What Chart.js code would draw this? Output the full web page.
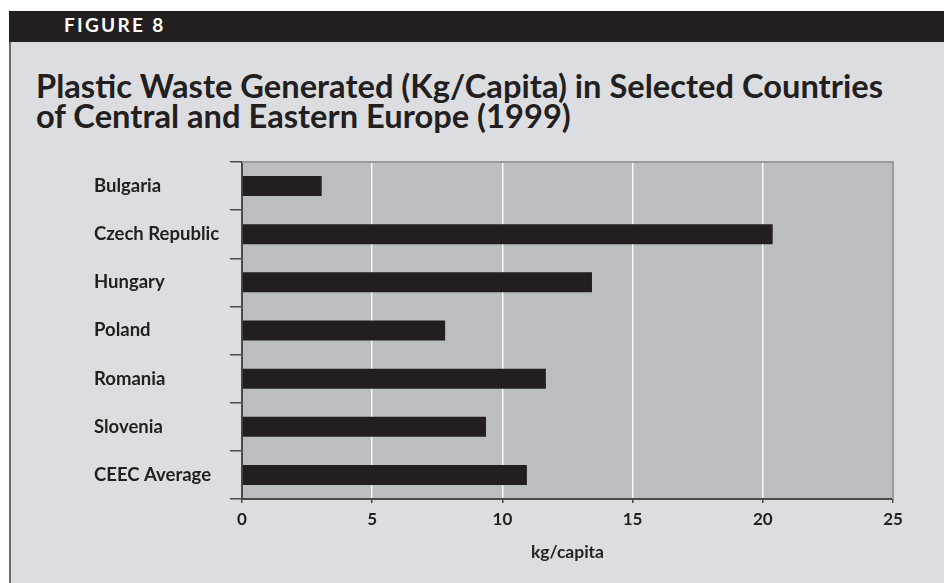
<!DOCTYPE html>
<html>
<head>
<meta charset="utf-8">
<script src="https://cdn.jsdelivr.net/npm/chart.js@4/dist/chart.umd.min.js"></script>
<style>
  html, body { margin: 0; padding: 0; background: #fff; }
  #page { position: relative; width: 944px; height: 583px; overflow: hidden; }
  #panel { position: absolute; left: 9px; top: 11px; right: 0; bottom: 0; background: #dcdde0; border-left: 2px solid #6b6b6b; }
  #header { position: absolute; left: 9px; top: 11px; right: 0; height: 31px; background: #231f20; }
  #header span { position: absolute; left: 55px; top: 2px; line-height: 31px; font: bold 19px Lato, sans-serif; letter-spacing: 2.3px; color: #fff; }
  #title { position: absolute; left: 36px; top: 70px; font: bold 33px Lato, sans-serif; line-height: 30px; color: #231f20; transform-origin: 0 0; white-space: nowrap; }
  canvas { position: absolute; left: 0; top: 0; }
</style>
</head>
<body>
<div id="page">
  <div id="panel"></div>
  <div id="header"><span>FIGURE 8</span></div>
  <div id="title"><div id="t1">Plastic Waste Generated (Kg/Capita) in Selected Countries</div><div>of Central and Eastern Europe (1999)</div></div>
  <canvas id="chart" width="944" height="583"></canvas>
</div>
<script>
const countries = ['Bulgaria', 'Czech Republic', 'Hungary', 'Poland', 'Romania', 'Slovenia', 'CEEC Average'];
const plasticWaste = [3.06, 20.38, 13.44, 7.8, 11.67, 9.37, 10.94];
const xMin = 0, xMax = 25, xStep = 5;

// squeeze the title to the width of the condensed face in the original
const t1 = document.getElementById('t1');
const titleEl = document.getElementById('title');
const sx = 847 / t1.getBoundingClientRect().width;
titleEl.style.transform = 'scaleX(' + sx + ')';

const plotBg = {
  id: 'plotBg',
  beforeDraw(chart) {
    const a = chart.chartArea, ctx = chart.ctx;
    ctx.save();
    ctx.fillStyle = '#bcbdc1';
    ctx.fillRect(a.left, a.top, a.right - a.left, a.bottom - a.top);
    ctx.restore();
  },
  afterDatasetsDraw(chart) {
    const a = chart.chartArea, ctx = chart.ctx;
    ctx.save();
    ctx.strokeStyle = '#999a9d';
    ctx.lineWidth = 2;
    ctx.beginPath();
    ctx.moveTo(a.left, a.top);
    ctx.lineTo(a.right, a.top);
    ctx.lineTo(a.right, a.bottom);
    ctx.stroke();
    ctx.restore();
  }
};

const ctx = document.getElementById('chart').getContext('2d');
const chart = new Chart(ctx, {
  type: 'bar',
  data: {
    labels: countries,
    datasets: [{
      data: plasticWaste,
      backgroundColor: '#231f20',
      barPercentage: 0.415,
      categoryPercentage: 1
    }]
  },
  options: {
    indexAxis: 'y',
    responsive: false,
    animation: false,
    layout: { padding: { left: 94, right: 51, top: 162, bottom: 0 } },
    plugins: { legend: { display: false }, tooltip: { enabled: false } },
    scales: {
      x: {
        min: xMin, max: xMax,
        ticks: { stepSize: xStep, color: '#231f20', padding: 6, font: { family: 'Lato', weight: 'bold', size: 17 } },
        grid: {
          color: c => (c.tick && (c.tick.value === xMin || c.tick.value === xMax)) ? 'rgba(0,0,0,0)' : '#f6f6f6',
          tickColor: '#4a4a4a',
          tickLength: 4,
          lineWidth: 1.5
        },
        border: { color: '#4a4a4a', width: 2 },
        title: { display: true, text: 'kg/capita', color: '#231f20', padding: { top: 0, bottom: 20 }, font: { family: 'Lato', weight: 'bold', size: 17.5 } },
        afterFit(scale) { scale.height = 84; }
      },
      y: {
        ticks: { color: '#231f20', crossAlign: 'far', padding: 0, font: { family: 'Lato', weight: 'bold', size: 18.5 } },
        grid: { drawOnChartArea: false, tickColor: '#4a4a4a', tickLength: 12, lineWidth: 1.5 },
        border: { color: '#4a4a4a', width: 2 },
        afterFit(scale) { scale.width = 148; }
      }
    }
  },
  plugins: [plotBg]
});
</script>
</body>
</html>
